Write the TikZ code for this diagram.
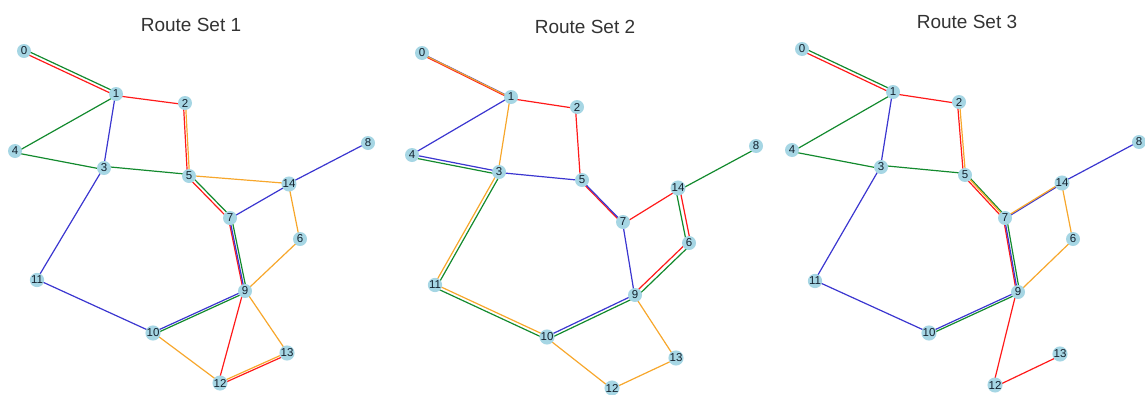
\documentclass[tikz,border=0pt]{standalone}
\usepackage{fontspec}
\setmainfont{Liberation Sans}
\usetikzlibrary{calc,backgrounds}
\definecolor{rred}{HTML}{FF1A1A}
\definecolor{rgreen}{HTML}{138A2E}
\definecolor{rblue}{HTML}{3B36D0}
\definecolor{rorange}{HTML}{F7A72C}
\definecolor{stnfill}{HTML}{A6D6E4}
\definecolor{ink}{HTML}{14222F}
\definecolor{ttl}{HTML}{333333}
\tikzset{
  every node/.style={font=\fontsize{11}{12}\selectfont},
  stn/.style ={circle, fill=stnfill, minimum size=14pt, inner sep=0pt,
               text=ink, font=\fontsize{11.5}{12}\selectfont},
  ttlnode/.style={font=\fontsize{19}{22}\selectfont, text=ttl},
  rte/.style ={line width=1.2pt, line cap=round},
}
% one leg of a route, shifted sideways so shared legs sit side by side
\newcommand{\seg}[5]{%
  \ifnum#4<#5
    \draw[rte, #1] ($(#3#4.center)!#2!90:(#3#5.center)$) -- ($(#3#5.center)!#2!-90:(#3#4.center)$);
  \else
    \draw[rte, #1] ($(#3#5.center)!#2!90:(#3#4.center)$) -- ($(#3#4.center)!#2!-90:(#3#5.center)$);
  \fi}
\newcommand{\route}[4]{%
  \foreach \v [remember=\v as \u (initially -1)] in {#4}{%
    \ifnum\u>-1 \seg{#1}{#2}{#3}{\u}{\v}\fi}}

\begin{document}
\begin{tikzpicture}[x=1pt, y=-1pt]
\useasboundingbox (0,0) rectangle (1145,394);

% ---------------- titles ------------------------------------------------------
\node[ttlnode] (t1) at (191,25) {Route Set 1};
\node[ttlnode] (t2) at (585,27) {Route Set 2};
\node[ttlnode] (t3) at (967,22) {Route Set 3};

% ---------------- stations ----------------------------------------------------
\foreach \n/\x/\y in {0/24/51, 1/116/94, 2/185/103, 3/104/168, 4/15/151,
    5/189/176, 6/300/239, 7/230/218, 8/368/143, 9/245/291, 10/153/333,
    11/37/280, 12/220/383, 13/287/353, 14/289/184}
  \node[stn] (a\n) at (\x,\y) {\n};
\foreach \n/\x/\y in {0/422/53, 1/511/97, 2/577/107, 3/499/172, 4/412/155,
    5/582/180, 6/689/243, 7/623/222, 8/756/146, 9/635/295, 10/547/337,
    11/435/285, 12/612/388, 13/676/358, 14/678/188}
  \node[stn] (b\n) at (\x,\y) {\n};
\foreach \n/\x/\y in {0/802/49, 1/893/92, 2/959/102, 3/881/167, 4/792/150,
    5/965/175, 6/1073/239, 7/1005/218, 8/1139/142, 9/1018/292, 10/929/333,
    11/815/281, 12/995/385, 13/1060/354, 14/1062/183}
  \node[stn] (c\n) at (\x,\y) {\n};

% ---------------- routes ------------------------------------------------------
\begin{scope}[on background layer]
  % route set 1
  \route{rred}{-1.6pt}{a}{0,1,2,5,7,9,12,13}
  \route{rgreen}{1.6pt}{a}{0,1,4,3,5,7,9,10}
  \route{rblue}{-0.5pt}{a}{8,14,7,9,10,11,3,1}
  \route{rorange}{0.5pt}{a}{2,5,14,6,9,13,12,10}
  % route set 2
  \route{rred}{-1.6pt}{b}{0,1,2,5,7,14,6,9}
  \route{rblue}{-0.5pt}{b}{0,1,4,3,5,7,9,10}
  \route{rgreen}{2.4pt}{b}{8,14,6,9,10,11,3,4}
  \route{rorange}{-0.8pt}{b}{0,1,3,11,10,12,13,9}
  % route set 3
  \route{rred}{-1.6pt}{c}{0,1,2,5,7,9,12,13}
  \route{rgreen}{1.6pt}{c}{0,1,4,3,5,7,9,10}
  \route{rblue}{-0.5pt}{c}{8,14,7,9,10,11,3,1}
  \route{rorange}{0.5pt}{c}{2,5,7,14,6,9}
\end{scope}

\end{tikzpicture}
\end{document}
